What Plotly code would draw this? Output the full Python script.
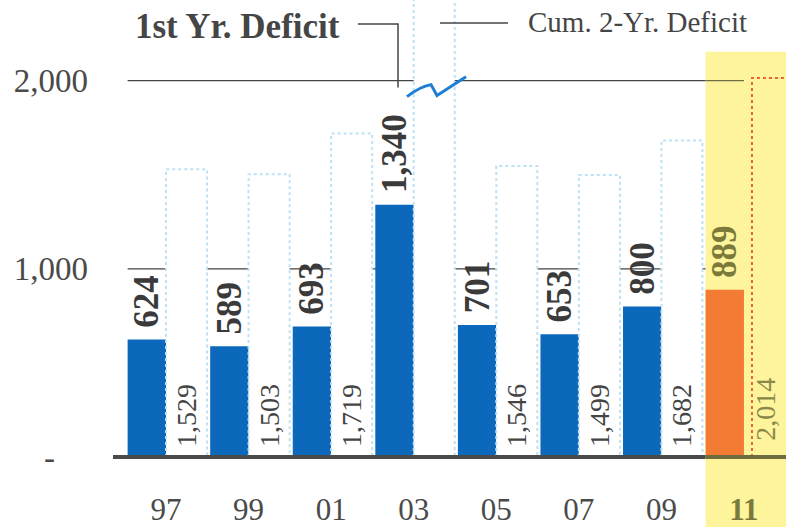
import plotly.graph_objects as go

# ---------------- data ----------------
years = ["97", "99", "01", "03", "05", "07", "09", "11"]
first_yr = [624, 589, 693, 1340, 701, 653, 800, 889]
cum_2yr = [1529, 1503, 1719, 2867, 1546, 1499, 1682, 2014]
y_tickvals = [0, 1000, 2000]
y_ticktext = ["-", "1,000", "2,000"]
gridlines = [1000, 2000]
highlight = "11"
legend_first = "1st Yr. Deficit"
legend_cum = "Cum. 2-Yr. Deficit"

# ---------------- style ----------------
FONT = "Liberation Serif"
BLUE = "#0b68bb"
ORANGE = "#f47b33"
YELLOW = "#fdf49c"
DARK = "#454545"
OLIVE = "#7b7a3a"
LIGHTBLUE = "#bde1f5"
RED = "#e8643c"

W, H = 786, 527
ML, MR, MT, MB = 113, 0, 0, 61
PW, PH = W - ML - MR, H - MT - MB

BW = 0.465   # width of first-year bar (x units)
CW = 0.497   # width of cumulative bar
HI_OFF = 0.097  # offset of highlighted cumulative bar
XMIN, XMAX = -0.642, 7.509
YMIN, YMAX = -37.0, 2428.6

idx = list(range(len(years)))
hi = years.index(highlight)
NB = "\u00a0"
cum_off = [HI_OFF if i == hi else 0 for i in idx]


def xp(v):  # data x -> paper
    return (v - XMIN) / (XMAX - XMIN)


def px(x):  # pixel x -> paper
    return (x - ML) / PW


def py(y):  # pixel y -> paper
    return 1 - (y - MT) / PH


fig = go.Figure()

# first-year bars
fig.add_bar(
    x=idx, y=first_yr, base=0,
    offset=-BW, width=BW,
    marker=dict(color=[ORANGE if i == hi else BLUE for i in idx], line=dict(width=0)),
    text=[f"{NB}<b>{v:,}</b>" for v in first_yr],
    textposition="outside", textangle=-90, constraintext="none", cliponaxis=False,
    outsidetextfont=dict(family=FONT, size=35,
                         color=[OLIVE if i == hi else "#3a3a3a" for i in idx]),
    hoverinfo="skip", showlegend=False,
)

# cumulative 2-year bars (fill + labels)
fig.add_bar(
    x=idx, y=cum_2yr, base=0,
    offset=cum_off, width=CW,
    marker=dict(color=["rgba(0,0,0,0)" if i == hi else "white" for i in idx],
                line=dict(width=0)),
    text=["" if i == hi else f"{NB}{v:,}" for i, v in zip(idx, cum_2yr)],
    textposition="inside", insidetextanchor="start", textangle=-90, constraintext="none",
    insidetextfont=dict(family=FONT, size=28, color=DARK),
    hoverinfo="skip", showlegend=False,
)

# dotted outlines of cumulative bars
for group, color in (([i for i in idx if i != hi], LIGHTBLUE), ([hi], RED)):
    ox, oy = [], []
    for i in group:
        x0 = i + cum_off[i]
        x1 = x0 + CW
        v = cum_2yr[i]
        ox += [x0, x0, x1, x1, None]
        oy += [0, v, v, 0, None]
    fig.add_scatter(x=ox, y=oy, mode="lines", line=dict(color=color, width=2, dash="dot"),
                    hoverinfo="skip", showlegend=False, cliponaxis=True)

shapes = []
band_x0 = xp(hi - BW)
# yellow highlight band
shapes.append(dict(type="rect", xref="paper", yref="paper", x0=band_x0, x1=1.0,
                   y0=py(H + 5), y1=py(52), fillcolor=YELLOW, line=dict(width=0),
                   layer="below"))
# gridlines
for g in gridlines:
    shapes.append(dict(type="line", xref="x", yref="y", x0=-BW, x1=hi - BW, y0=g, y1=g,
                       line=dict(color=DARK, width=1.3), layer="below"))
shapes.append(dict(type="line", xref="x", yref="y", x0=hi - BW, x1=hi, y0=gridlines[-1],
                   y1=gridlines[-1], line=dict(color="#6f6e48", width=1.3), layer="below"))
# baseline
shapes.append(dict(type="line", xref="paper", yref="y", x0=0, x1=band_x0, y0=0, y1=0,
                   line=dict(color="#4a4a4a", width=4)))
shapes.append(dict(type="line", xref="paper", yref="y", x0=band_x0, x1=1, y0=0, y1=0,
                   line=dict(color="#6e6d40", width=4)))
# legend leader lines
shapes.append(dict(type="path", xref="paper", yref="paper",
                   path=f"M {px(358)},{py(24)} L {px(398)},{py(24)} L {px(398)},{py(88)}",
                   line=dict(color=DARK, width=1.5)))
shapes.append(dict(type="line", xref="paper", yref="paper", x0=px(440), x1=px(508),
                   y0=py(23), y1=py(23), line=dict(color=DARK, width=1.5)))
# axis break squiggle
shapes.append(dict(type="path", xref="paper", yref="paper",
                   path=(f"M {px(407)},{py(97)} Q {px(420)},{py(87)} {px(431)},{py(85)} "
                         f"L {px(437)},{py(96)} Q {px(452)},{py(86)} {px(466)},{py(77)}"),
                   line=dict(color="#1f7fd6", width=3)))

annotations = [
    dict(xref="paper", yref="paper", x=px(237), y=py(27), text=f"<b>{legend_first}</b>",
         showarrow=False, xanchor="center", yanchor="middle",
         font=dict(family=FONT, size=35, color=DARK)),
    dict(xref="paper", yref="paper", x=px(526), y=py(22), text=legend_cum,
         showarrow=False, xanchor="left", yanchor="middle",
         font=dict(family=FONT, size=29, color=DARK)),
    # label of the highlighted cumulative bar (bar is cut by the right edge)
    dict(xref="x", yref="y", x=hi + HI_OFF + 0.16, y=0, yshift=14,
         text=f"{cum_2yr[hi]:,}", textangle=-90, showarrow=False,
         xanchor="center", yanchor="bottom",
         font=dict(family=FONT, size=28, color="#8a8848")),
]

ticktext_x = [f"<b><span style='color:{OLIVE}'>{y}</span></b>" if y == highlight else y
              for y in years]
ytt = [t if v != 0 else t + NB * 4 for v, t in zip(y_tickvals, y_ticktext)]

fig.update_layout(
    width=W, height=H,
    margin=dict(l=ML, r=MR, t=MT, b=MB, pad=0),
    paper_bgcolor="white", plot_bgcolor="rgba(0,0,0,0)",
    barmode="overlay",
    shapes=shapes, annotations=annotations,
    font=dict(family=FONT, color=DARK),
    xaxis=dict(range=[XMIN, XMAX], tickmode="array", tickvals=idx, ticktext=ticktext_x,
               showgrid=False, zeroline=False, showline=False, ticks="",
               tickfont=dict(family=FONT, size=31, color="#4a4a4a"),
               ticklabelstandoff=24, fixedrange=True),
    yaxis=dict(range=[YMIN, YMAX], tickmode="array", tickvals=y_tickvals, ticktext=ytt,
               showgrid=False, zeroline=False, showline=False, ticks="",
               tickfont=dict(family=FONT, size=33, color="#4a4a4a"),
               ticklabelstandoff=24, fixedrange=True),
)

fig.write_html("out.html", config={"displayModeBar": False},
               post_script="document.body.style.margin='0px';document.body.style.overflow='hidden';")
